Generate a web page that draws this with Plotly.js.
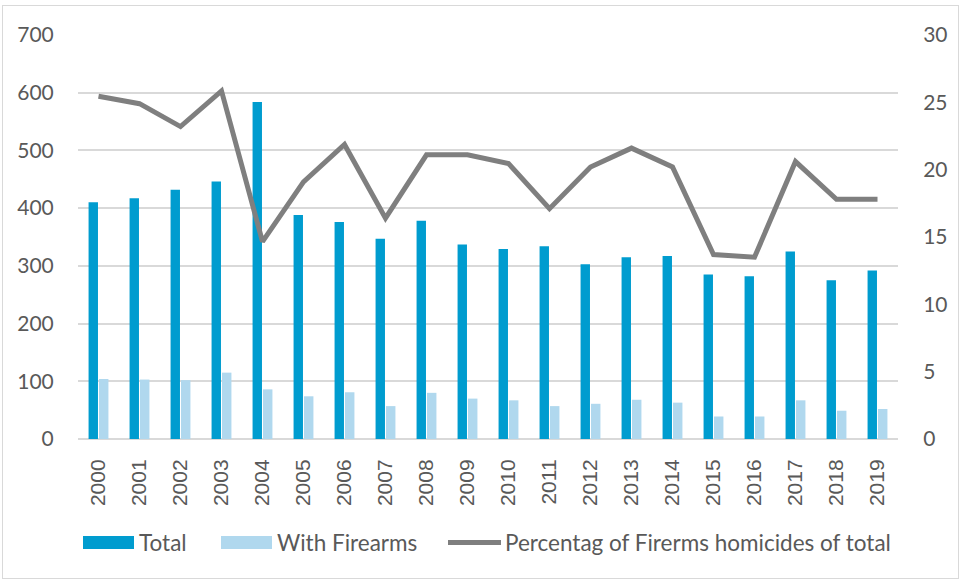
<!DOCTYPE html>
<html>
<head>
<meta charset="utf-8">
<script src="https://cdn.plot.ly/plotly-3.0.1.min.js"></script>
<style>
  html, body { margin: 0; padding: 0; background: #ffffff; }
  #wrap { position: relative; width: 961px; height: 581px; }
  #chart { position: absolute; left: 0; top: 0; width: 961px; height: 581px; }
  #frame { position: absolute; left: 2px; top: 5px; width: 955px; height: 572px; border: 1px solid #d9d9d9; pointer-events: none; }
</style>
</head>
<body>
<div id="wrap">
  <div id="chart"></div>
  <div id="frame"></div>
</div>
<script>
const years = ['2000','2001','2002','2003','2004','2005','2006','2007','2008','2009',
               '2010','2011','2012','2013','2014','2015','2016','2017','2018','2019'];
const totalHomicides = [410, 417, 432, 446, 584, 388, 376, 347, 378, 337,
                        329, 334, 303, 315, 317, 285, 282, 325, 275, 292];
const firearmHomicides = [104, 103, 102, 115, 86, 74, 81, 57, 80, 70,
                          67, 57, 61, 68, 63, 39, 39, 67, 49, 52];
const firearmPercent = [25.45, 24.9, 23.2, 25.85, 14.65, 19.1, 21.87, 16.4, 21.1, 21.1,
                        20.46, 17.1, 20.2, 21.6, 20.2, 13.7, 13.5, 20.6, 17.8, 17.8];
const seriesNames = ['Total', 'With Firearms', 'Percentag of Firerms homicides of total'];

const cTotal = '#009ccf';
const cFire = '#b0d8ee';
const cLine = '#7f7f7f';
const txt = '#595959';
const FONT = 'Lato, "Open Sans", sans-serif';

const traces = [
  { type: 'bar', x: years, y: totalHomicides, name: seriesNames[0],
    marker: { color: cTotal }, yaxis: 'y', showlegend: false, hoverinfo: 'x+y' },
  { type: 'bar', x: years, y: firearmHomicides, name: seriesNames[1],
    marker: { color: cFire }, yaxis: 'y', showlegend: false, hoverinfo: 'x+y' },
  { type: 'scatter', mode: 'lines', x: years, y: firearmPercent, name: seriesNames[2],
    line: { color: cLine, width: 5, shape: 'linear' }, yaxis: 'y2', showlegend: false,
    cliponaxis: false }
];

// legend drawn manually (paper coordinates)
const plotL = 78, plotW = 820, plotB = 439, plotH = 404;
const px = v => (v - plotL) / plotW;
const py = v => (plotB - v) / plotH;

const shapes = [
  { type: 'rect', xref: 'paper', yref: 'paper', x0: px(83), x1: px(134), y0: py(549), y1: py(536),
    fillcolor: cTotal, line: { width: 0 } },
  { type: 'rect', xref: 'paper', yref: 'paper', x0: px(221), x1: px(272), y0: py(549), y1: py(536),
    fillcolor: cFire, line: { width: 0 } },
  { type: 'line', xref: 'paper', yref: 'paper', x0: px(448), x1: px(501), y0: py(542.5), y1: py(542.5),
    line: { color: cLine, width: 5 } }
];
const legFont = { family: FONT, size: 22.5, color: txt };
const annotations = [
  { xref: 'paper', yref: 'paper', x: px(137), y: py(542), xanchor: 'left', yanchor: 'middle',
    text: seriesNames[0], showarrow: false, font: legFont },
  { xref: 'paper', yref: 'paper', x: px(275), y: py(542), xanchor: 'left', yanchor: 'middle',
    text: seriesNames[1], showarrow: false, font: legFont },
  { xref: 'paper', yref: 'paper', x: px(503), y: py(542), xanchor: 'left', yanchor: 'middle',
    text: seriesNames[2], showarrow: false, font: legFont }
];

const layout = {
  width: 961, height: 581,
  margin: { l: 78, r: 63, t: 35, b: 142, pad: 0 },
  paper_bgcolor: '#ffffff', plot_bgcolor: '#ffffff',
  font: { family: FONT, size: 20, color: txt },
  barmode: 'group', bargap: 0.49, bargroupgap: 0.1,
  showlegend: false,
  xaxis: {
    type: 'category', tickangle: -90, showgrid: false, showline: false, zeroline: false,
    ticks: 'outside', ticklen: 11, tickcolor: 'rgba(0,0,0,0)',
    tickfont: { family: '"Liberation Sans", Arial, sans-serif', size: 21, color: txt }
  },
  yaxis: {
    range: [0, 700], dtick: 100, tick0: 0, showgrid: true, gridcolor: '#d9d9d9', gridwidth: 2,
    zeroline: true, zerolinecolor: '#d9d9d9', zerolinewidth: 2, showline: false,
    ticks: 'outside', ticklen: 19, tickcolor: 'rgba(0,0,0,0)',
    tickfont: { family: FONT, size: 21, color: txt }, fixedrange: true
  },
  yaxis2: {
    range: [0, 30], dtick: 5, tick0: 0, overlaying: 'y', side: 'right', showgrid: false,
    zeroline: false, showline: false,
    ticks: 'outside', ticklen: 20, tickcolor: 'rgba(0,0,0,0)',
    tickfont: { family: FONT, size: 21, color: txt }, fixedrange: true
  },
  shapes: shapes,
  annotations: annotations
};

Plotly.newPlot('chart', traces, layout, { displayModeBar: false, staticPlot: true });
</script>
</body>
</html>
